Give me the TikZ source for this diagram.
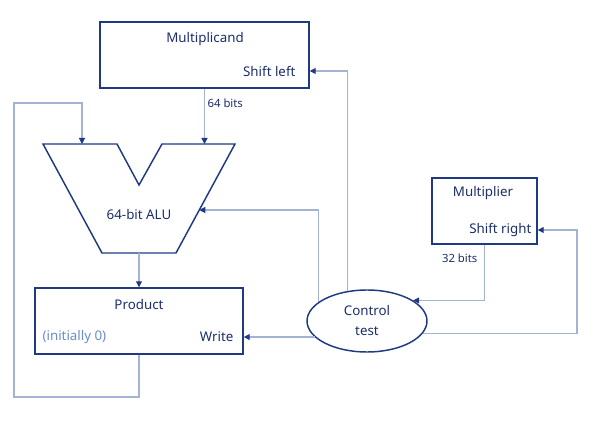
\documentclass[tikz,border=0pt]{standalone}
\usepackage{fontspec}
\setmainfont{Noto Sans}
\usepackage{tikz}
\usetikzlibrary{arrows.meta,positioning,shapes.geometric,calc}
\definecolor{mnavy}{HTML}{1F3A82}
\definecolor{mtext}{HTML}{1C2E6B}
\definecolor{mline}{HTML}{A3B3D4}
\definecolor{mpale}{HTML}{6C8CC8}
\tikzset{
  mbox/.style={draw=mnavy, line width=1.1pt, fill=white, inner sep=0pt},
  mellip/.style={ellipse, draw=mnavy, line width=1.1pt, fill=white, inner sep=0pt,
                 minimum width=90pt, minimum height=46.5pt, align=center,
                 text=mtext, font=\fontsize{10}{15}\selectfont},
  mlbl/.style={text=mtext, font=\fontsize{10}{12}\selectfont, inner sep=1pt},
  msub/.style={text=mtext, font=\fontsize{8.5}{10}\selectfont, inner sep=1pt},
  mconn/.style={draw=mline, line width=0.8pt,
                -{Triangle[color=mnavy, length=4.5pt, width=4.5pt]}},
}

\begin{document}
\begin{tikzpicture}[x=0.75pt,y=-0.75pt]
  \useasboundingbox (0,0) rectangle (596,427);

  % registers
  \node[mbox, minimum width=156.75pt, minimum height=49.5pt] (mcand)  at (204.5,55)  {};
  \node[mbox, minimum width=78.75pt,  minimum height=49.5pt] (mplier) at (484.5,211) {};
  \node[mbox, minimum width=156pt,    minimum height=49.5pt] (prod)   at (139,321)   {};
  \node[mellip] (ctrl) at (367,321) {Control\\test};

  % ALU outline
  \draw[mnavy, line width=1.1pt]
    (43,144) -- (117,144) -- (139,185) -- (162,144) -- (235,144)
    -- (176,253) -- (102,253) -- cycle;
  \coordinate (alulin) at (82,144);
  \coordinate (alurin) at (204.5,144);
  \coordinate (aluout) at (139,253);
  \coordinate (aluctl) at (199.3,210);

  % texts
  \node[mlbl] (mcandname) at (205,39) {Multiplicand};
  \node[mlbl, anchor=east] (sl) at (297,71) {Shift left};
  \node[msub, anchor=west] (b64) at (206,103) {64 bits};
  \node[mlbl] (aluname) at (139,215) {64-bit ALU};
  \node[mlbl] (prodname) at (139,305) {Product};
  \node[mlbl, anchor=west, text=mpale] (init) at (41,337) {(initially 0)};
  \node[mlbl, anchor=east] (wr) at (235,337) {Write};
  \node[mlbl] (mpliername) at (483,193) {Multiplier};
  \node[mlbl, anchor=east] (sr) at (533,230) {Shift right};
  \node[msub, anchor=east] (b32) at (479,258) {32 bits};

  % data paths
  \coordinate (loopbl) at (14,397);
  \coordinate (looptl) at (14,103);
  \draw[mconn] (mcand.south) -- (alurin);
  \draw[mconn] (aluout) -- (prod.north);
  \draw[mconn] (prod.south) |- (loopbl) -- (looptl) -| (alulin);

  % control paths
  \coordinate (rside) at (577,230);
  \draw[mconn] (ctrl.158) |- (aluctl);
  \draw[mconn] (ctrl.123) |- (mcand.east |- sl.center);
  \draw[mconn] (mplier.south) |- (ctrl.24);
  \draw[mconn] (ctrl.-13) -| (rside) -- (mplier.east |- sr.center);
  \draw[mconn] (ctrl.197) -- (prod.east |- ctrl.197);

\end{tikzpicture}
\end{document}
